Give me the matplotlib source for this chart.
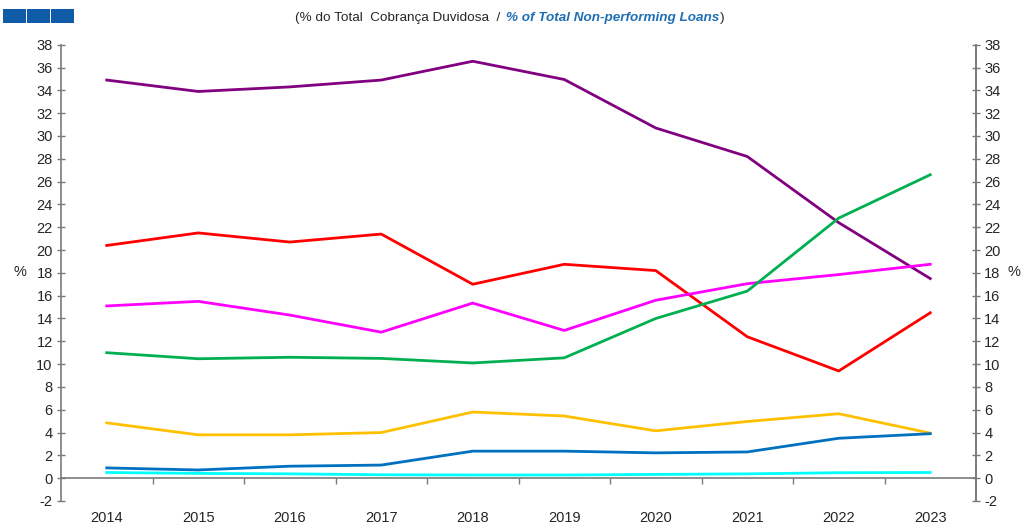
import matplotlib
matplotlib.use("Agg")
import matplotlib.pyplot as plt
from matplotlib.patches import Rectangle

plt.rcParams['font.family'] = ['Liberation Sans', 'DejaVu Sans']
plt.rcParams['axes.unicode_minus'] = False

years = ['2014', '2015', '2016', '2017', '2018', '2019', '2020', '2021', '2022', '2023']
purple = [34.9, 33.9, 34.3, 34.9, 36.55, 34.95, 30.7, 28.2, 22.4, 17.5]
red = [20.4, 21.5, 20.7, 21.4, 17.0, 18.75, 18.2, 12.4, 9.4, 14.5]
magenta = [15.1, 15.5, 14.3, 12.8, 15.35, 12.95, 15.6, 17.05, 17.85, 18.75]
green = [11.0, 10.47, 10.6, 10.5, 10.1, 10.55, 14.0, 16.4, 22.8, 26.6]
yellow = [4.85, 3.8, 3.8, 4.0, 5.8, 5.45, 4.15, 4.97, 5.65, 3.95]
blue = [0.9, 0.72, 1.05, 1.15, 2.37, 2.37, 2.22, 2.3, 3.5, 3.9]
cyan = [0.5, 0.42, 0.38, 0.3, 0.28, 0.28, 0.33, 0.38, 0.48, 0.5]

series = [
    (purple, '#800080'),
    (red, '#FF0000'),
    (magenta, '#FF00FF'),
    (green, '#00B050'),
    (yellow, '#FFC000'),
    (blue, '#0070C0'),
    (cyan, '#00FFFF'),
]

W, H = 1021, 526
fig = plt.figure(figsize=(W / 100, H / 100), dpi=100)
ax = fig.add_axes([61 / W, 25 / H, (976 - 61) / W, (501 - 44.7) / H])

x = list(range(len(years)))
for vals, col in series:
    ax.plot(x, vals, color=col, lw=2.0, solid_joinstyle='round', zorder=3)

ax.set_xlim(-0.5, len(years) - 0.5)
ax.set_ylim(-2, 38)
axis_col = '#7a7a7a'
text_col = '#262626'

ax.spines['top'].set_visible(False)
for s in ['left', 'right', 'bottom']:
    ax.spines[s].set_color(axis_col)
    ax.spines[s].set_linewidth(1.2)
ax.spines['bottom'].set_position(('data', 0))

ax.set_yticks(range(-2, 39, 2))
ax.tick_params(axis='y', direction='inout', length=6, width=1.0, color=axis_col,
               labelsize=10.5, labelcolor=text_col, pad=3)

ax2 = ax.twinx()
ax2.set_ylim(ax.get_ylim())
ax2.set_yticks(range(-2, 39, 2))
for s in ['top', 'left', 'bottom']:
    ax2.spines[s].set_visible(False)
ax2.spines['right'].set_color(axis_col)
ax2.spines['right'].set_linewidth(1.2)
ax2.tick_params(axis='y', direction='inout', length=6, width=1.0, color=axis_col,
                labelsize=10.5, labelcolor=text_col, pad=3)

ax.set_xticks(x)
ax.set_xticklabels(years)
ax.tick_params(axis='x', which='major', length=0, labelsize=10.5, labelcolor=text_col, pad=23.5)
ax.set_xticks([i + 0.5 for i in x[:-1]], minor=True)
ax.tick_params(axis='x', which='minor', direction='out', length=4, width=1.0, color=axis_col)

fig.text(20 / W, 1 - 272 / H, '%', fontsize=10.5, color=text_col, ha='center', va='center')
fig.text(1014 / W, 1 - 272 / H, '%', fontsize=10.5, color=text_col, ha='center', va='center')

# logo squares
logo_col = '#0F5BA8'
for i in range(3):
    fig.patches.append(Rectangle(((3 + i * 24) / W, 1 - 22.5 / H), 23 / W, 13 / H,
                                 transform=fig.transFigure, color=logo_col, lw=0))

# subtitle
t1 = fig.text(504 / W, 1 - 17.5 / H, '(% do Total  Cobrança Duvidosa  / ', fontsize=9.7,
              color=text_col, ha='right', va='center')
t2 = fig.text(506 / W, 1 - 17.5 / H, '% of Total Non-performing Loans', fontsize=9.7,
              color='#1F6FB5', ha='left', va='center', style='italic', weight='bold')
fig.canvas.draw()
bb = t2.get_window_extent()
fig.text((bb.x1 + 1) / W, 1 - 17.5 / H, ')', fontsize=9.7, color=text_col, ha='left', va='center')

fig.savefig('out.png', dpi=100)
